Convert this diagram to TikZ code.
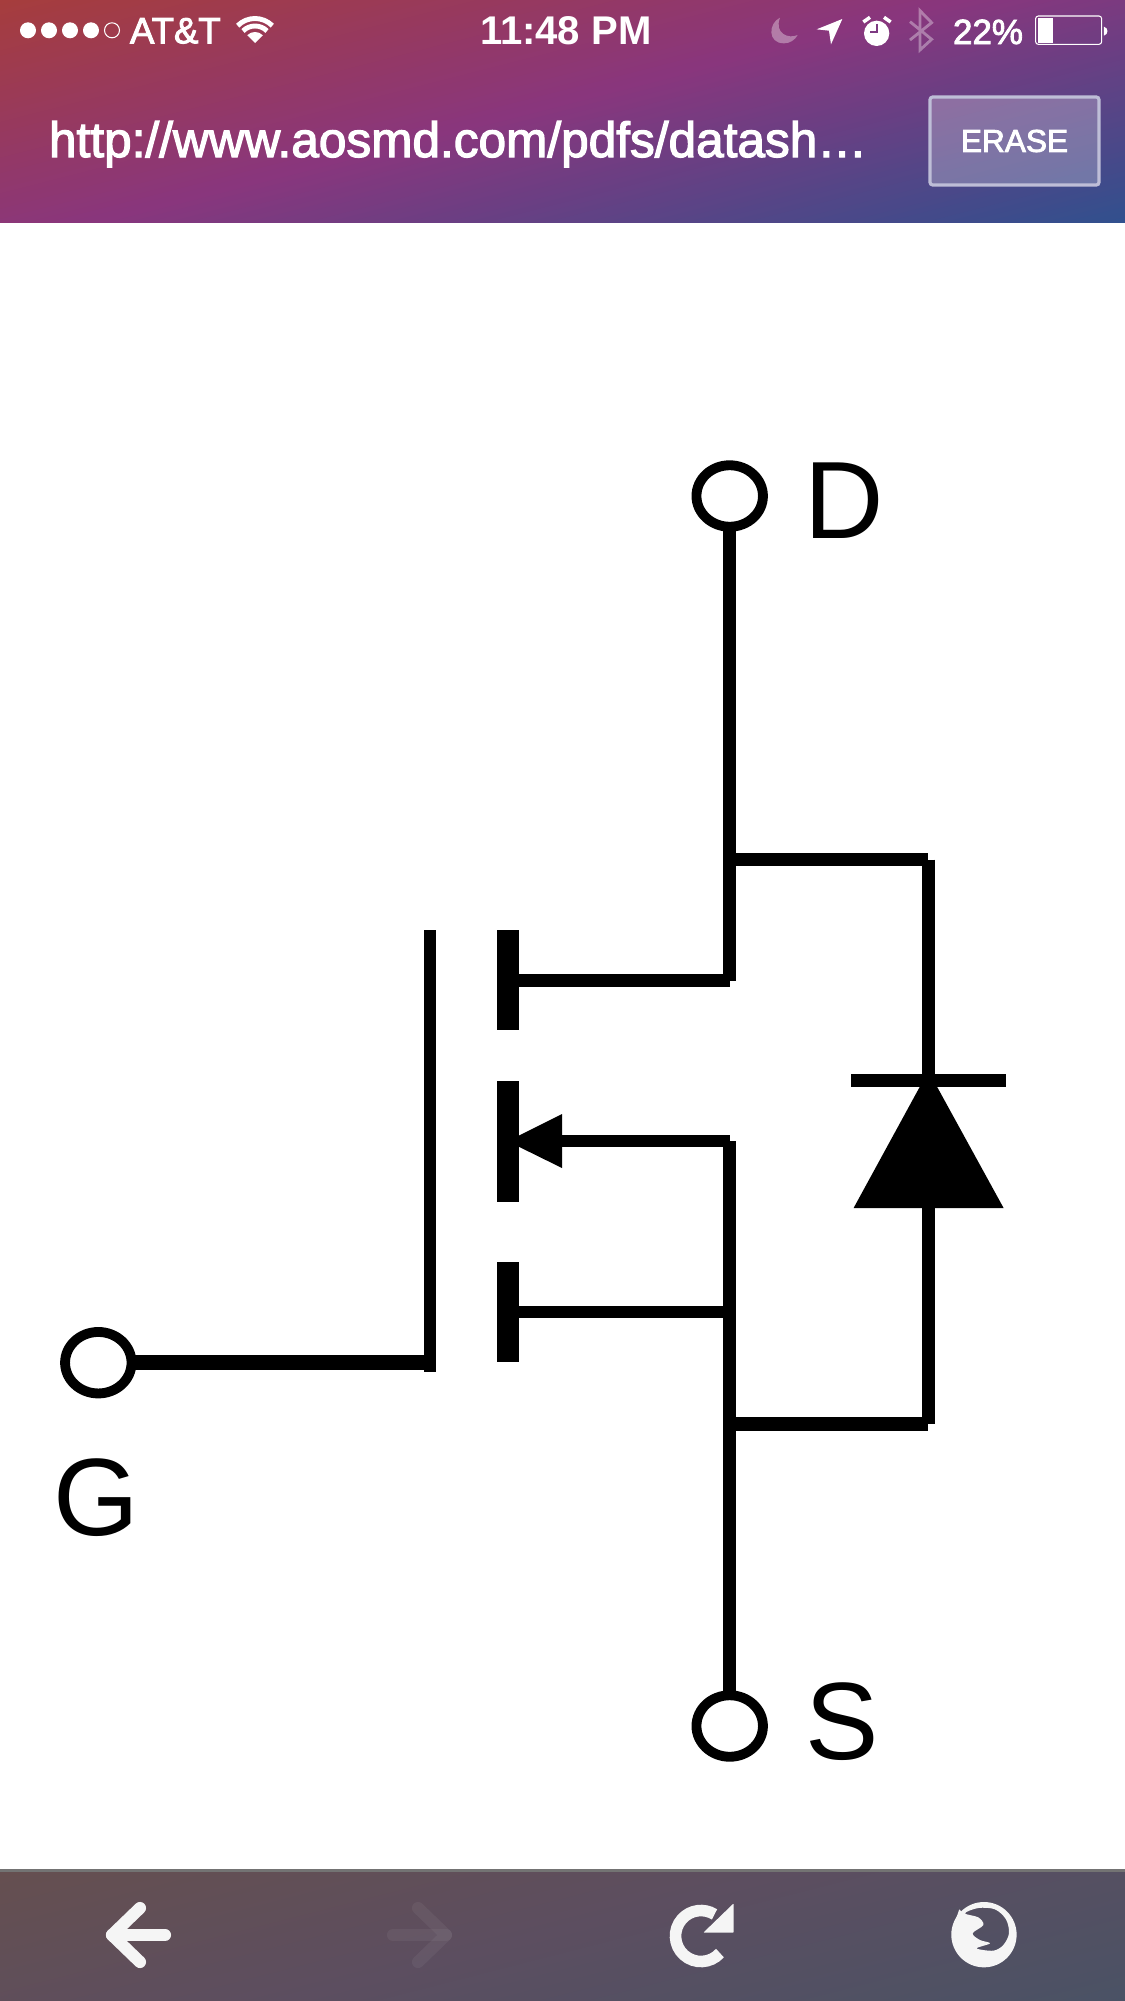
\documentclass[tikz,border=0pt]{standalone}
\usepackage{fontspec}
\setmainfont{Liberation Sans}
\newfontfamily\medfont[FakeBold=2.5]{Liberation Sans}
\usetikzlibrary{shapes.geometric}
\definecolor{topA}{RGB}{166,61,61}
\definecolor{topB}{RGB}{137,54,125}
\definecolor{topC}{RGB}{48,80,142}
\definecolor{botA}{RGB}{101,79,80}
\definecolor{botB}{RGB}{92,78,96}
\definecolor{botC}{RGB}{74,82,101}
\definecolor{handcol}{RGB}{125,58,130}
\newcommand{\gradbar}[5]{% y0, y1, colours A B C
  \begin{scope}
    \clip (0,#1) rectangle (1125,#2);
    \pgfmathsetmacro{\gmax}{0.248*1125+0.969*(#2-#1)}
    \pgfmathsetmacro{\gmid}{0.478*\gmax}
    \foreach \i in {0,...,100}{
      \pgfmathsetmacro{\gs}{\i/100*\gmax}
      \pgfmathsetmacro{\ga}{\gs/0.969+#1}
      \pgfmathsetmacro{\gb}{(\gs-279)/0.969+#1}
      \ifdim\gs pt<\gmid pt
        \pgfmathsetmacro{\gp}{\gs/\gmid*100}
        \colorlet{gradc}{#4!\gp!#3}
      \else
        \pgfmathsetmacro{\gp}{(\gs-\gmid)/(\gmax-\gmid)*100}
        \colorlet{gradc}{#5!\gp!#4}
      \fi
      \fill[gradc] (0,\ga) -- (1125,\gb) -- (1125,2600) -- (0,2600) -- cycle;
    }
  \end{scope}
}
\tikzset{
  wire/.style={line width=7.1pt,black},
  heavywire/.style={line width=8.4pt,black},
  term/.style={ellipse,draw=black,line width=5.6pt,fill=white,inner sep=0pt,outer sep=0pt,minimum width=1.33cm,minimum height=1.23cm},
  plate/.style={rectangle,fill=black,inner sep=0pt,outer sep=0pt},
  biglabel/.style={anchor=base west,inner sep=0pt,outer sep=0pt,font=\fontsize{62.6}{70}\selectfont,text=black},
  statustext/.style={anchor=base west,inner sep=0pt,outer sep=0pt,text=white},
  dim/.style={opacity=0.35}
}
\begin{document}
\begin{tikzpicture}[x=0.02cm,y=-0.02cm]
\useasboundingbox (0,0) rectangle (1125,2001);
\fill[white] (0,0) rectangle (1125,2001);
% top bar
\gradbar{0}{222}{topA}{topB}{topC}
% signal dots
\foreach \cx in {28,49,70,91} \fill[white] (\cx,30.3) circle (8);
\draw[white,line width=0.6pt] (112,30.3) circle (7.5);
\node[statustext,font=\medfont\fontsize{20.8}{24}\selectfont] (carrier) at (130,43.3) {AT\&T};
% wifi
\fill[white] (255,43) -- ++(-135:11) arc (-135:-45:11) -- cycle;
\draw[white,line width=2.8pt] (255,43) ++(-135:17) arc (-135:-45:17);
\draw[white,line width=2.8pt] (255,43) ++(-135:24.5) arc (-135:-45:24.5);
\node[statustext,font=\bfseries\fontsize{22.8}{24}\selectfont] (clock) at (480,44) {11:48 PM};
% right status icons (coordinates of a 3x crop at x=760)
\begin{scope}[shift={(760,0)},scale=0.3333]
  \fill[white,dim] (60,53) .. controls (25,70) and (22,130) .. (72,130) .. controls (90,130) and (105,120) .. (113,105) .. controls (85,118) and (42,100) .. (60,53) -- cycle;
  \fill[white] (170,88) -- (247,57) -- (213,133) -- (207,92) -- cycle;
  \fill[white,even odd rule] (350,100) circle (38);
  \draw[handcol,line width=1.3pt] (350,72) -- (350,97) -- (330,97);
  \draw[white,line width=2pt] (310,66) -- (330,52);
  \draw[white,line width=2pt] (372,52) -- (392,66);
  \draw[white,dim,line width=1.6pt] (450,65) -- (515,118) -- (480,150) -- (480,32) -- (515,68) -- (450,120);
  \draw[white,line width=0.6pt,rounded corners=1.5pt] (827,48) rectangle (1025,133);
  \fill[white] (835,55) rectangle (878,128);
  \fill[white] (1032,80) .. controls (1046,84) and (1046,103) .. (1032,107) -- cycle;
\end{scope}
\node[statustext,font=\medfont\fontsize{19.9}{24}\selectfont] (battery) at (953,44) {22\%};
\node[statustext,font=\medfont\fontsize{28.2}{32}\selectfont] (url) at (49,157) {http://www.aosmd.com/pdfs/datash…};
\node[rectangle,rounded corners=1.5pt,draw={rgb,255:red,190;green,190;blue,215},line width=1.8pt,fill=white,fill opacity=0.25,draw opacity=1,text opacity=1,minimum width=3.38cm,minimum height=1.76cm,inner sep=0pt,outer sep=0pt] (erasebox) at (1014.5,141) {};
\node[statustext,anchor=center,font=\medfont\fontsize{18}{22}\selectfont] (erase) at (erasebox.center) {ERASE};
% bottom bar
\fill[black!55!white] (0,1869) rectangle (1125,1873);
\gradbar{1872}{2001}{botA}{botB}{botC}
% back / forward
\begin{scope}[line width=6.9pt,line cap=round,line join=round,white]
  \draw[color=white!96!black] (140,1908) -- (112,1935) -- (140,1962);
  \draw[color=white!96!black] (112,1935) -- (165,1935);
  \draw[opacity=0.05] (418,1908) -- (446,1935) -- (418,1962);
  \draw[opacity=0.05] (446,1935) -- (393,1935);
\end{scope}
% reload
\draw[white!96!black,line width=6.6pt] (701,1936) ++(42:25.5) arc (42:302:25.5);
\fill[white!96!black,rounded corners=0.5pt] (733.7,1903.3) -- (733.7,1932.7) -- (703.3,1932.7) -- cycle;
% firefox (coordinates of a 3x crop at 640,1880)
\begin{scope}[shift={(640,1880)},scale=0.3333]
  \fill[white!96!black,even odd rule]
    (1032,164) circle (98)
    plot[smooth cycle,tension=0.55] coordinates {(975,100) (1015,84) (1065,88) (1098,118) (1107,160) (1090,195) (1060,212) (1010,205) (1050,190) (1020,180) (998,160) (1030,135) (1015,112)};
  \fill[white!96!black] (958,88) -- (970,100) -- (945,125) -- cycle;
\end{scope}
% terminals
\node[term] (dterm) at (729.7,496) {};
\node[term] (sterm) at (729.7,1726) {};
\node[term] (gterm) at (98.3,1362.7) {};
\node[biglabel] (dlabel) at (804,538.3) {D};
\node[biglabel] (slabel) at (805,1759.5) {S};
\node[biglabel] (glabel) at (53,1535) {G};
% plates
\node[plate,minimum width=0.25cm,minimum height=8.84cm] (gate) at (430.2,1151.3) {};
\node[plate,minimum width=0.432cm,minimum height=2.006cm] (chone) at (507.8,980.3) {};
\node[plate,minimum width=0.432cm,minimum height=2.42cm] (chtwo) at (507.8,1141.1) {};
\node[plate,minimum width=0.432cm,minimum height=2.0cm] (chthree) at (507.8,1312.3) {};
\node[plate,minimum width=3.094cm,minimum height=0.254cm] (cathode) at (928.4,1080.6) {};
% junctions
\coordinate (draincorner) at (729.7,980.5);
\coordinate (dtap) at (729.7,859.5);
\coordinate (dright) at (928.4,859.5);
\coordinate (anodeapex) at (928.4,1071);
\coordinate (anodeleft) at (853.6,1208);
\coordinate (anoderight) at (1003.6,1208);
\coordinate (anodemid) at (928.4,1208);
\coordinate (srcright) at (928.4,1424);
\coordinate (stap) at (729.7,1424);
\coordinate (srccorner) at (729.7,1141.2);
\coordinate (chthreetap) at (729.7,1312.2);
\coordinate (arrowtip) at (507.6,1141.2);
\coordinate (arrowtop) at (562,1114);
\coordinate (arrowbot) at (562,1168);
\coordinate (arrowbase) at (562,1141.2);
% connectors
\draw[wire] (dterm) -- (draincorner);
\draw[wire] (chone.east |- draincorner) -- (draincorner);
\draw[wire] (dtap) -- (dright);
\draw[wire] (dright) -- (cathode.center);
\fill[black] (anodeapex) -- (anoderight) -- (anodeleft) -- cycle;
\draw[wire] (anodemid) -- (srcright);
\draw[heavywire] (stap) -- (srcright);
\draw[wire] (srccorner) -- (sterm);
\draw[wire] (srccorner) -- (arrowbase);
\fill[black] (arrowtip) -- (arrowtop) -- (arrowbot) -- cycle;
\draw[wire] (chthree.east |- chthreetap) -- (chthreetap);
\draw[heavywire] (gterm) -- (gate.center |- gterm);
\end{tikzpicture}
\end{document}
